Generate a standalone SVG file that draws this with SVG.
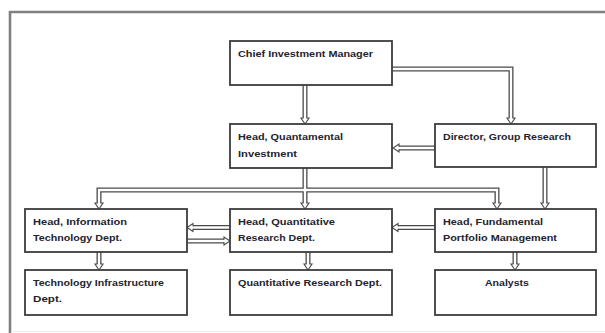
<svg xmlns="http://www.w3.org/2000/svg" width="605" height="333" viewBox="0 0 605 333">
<defs>
<style>
.box{fill:#fff;stroke:#3c3c3c;stroke-width:1.8}
.t{font-family:"Liberation Sans",Arial,sans-serif;font-weight:bold;font-size:9.5px;fill:#23232e}
.case{fill:none;stroke:#4a4a4a;stroke-width:5;stroke-linejoin:miter}
.core{fill:none;stroke:#fff;stroke-width:2.4;stroke-linejoin:miter}
</style>
<marker id="ah" markerUnits="userSpaceOnUse" viewBox="-1 -5 8 10" markerWidth="8" markerHeight="10" refX="0" refY="0" orient="auto" overflow="visible">
<path d="M0,-1.3 L0,-4 L6,0 L0,4 L0,1.3" fill="#fff" stroke="#4a4a4a" stroke-width="1.1"/>
</marker>
</defs>
<rect width="605" height="333" fill="#fff"/>
<g id="frame">
<path d="M10,333 V12 H605" fill="none" stroke="#808080" stroke-width="2.6"/>
<path d="M11,331.5 H605" fill="none" stroke="#ececec" stroke-width="1"/>
</g>
<g id="connectors">
<g class="case">
<path d="M305,85 V118"/>
<path d="M392,69 H511 V118"/>
<path d="M435,148 H399"/>
<path d="M305,168 V203"/>
<path d="M305,190 H99 V203"/>
<path d="M305,190 H497 V203"/>
<path d="M545,167 V203"/>
<path d="M230,227.5 H193"/>
<path d="M187,241 H224"/>
<path d="M435,227.5 H398"/>
<path d="M99,252 V264"/>
<path d="M308,252 V264"/>
<path d="M515,252 V264"/>
</g>
<g class="core" marker-end="url(#ah)">
<path d="M305,85 V118"/>
<path d="M392,69 H511 V118"/>
<path d="M435,148 H399"/>
<path d="M305,168 V203"/>
<path d="M305,190 H99 V203"/>
<path d="M305,190 H497 V203"/>
<path d="M545,167 V203"/>
<path d="M230,227.5 H193"/>
<path d="M187,241 H224"/>
<path d="M435,227.5 H398"/>
<path d="M99,252 V264"/>
<path d="M308,252 V264"/>
<path d="M515,252 V264"/>
</g>
</g>
<g id="chief">
<rect class="box" x="230" y="41" width="162" height="44"/>
<text class="t" x="238" y="56.5" textLength="135" lengthAdjust="spacingAndGlyphs">Chief Investment Manager</text>
</g>
<g id="quantamental">
<rect class="box" x="230" y="124" width="162" height="44"/>
<text class="t" x="238" y="140" textLength="105" lengthAdjust="spacingAndGlyphs">Head, Quantamental</text>
<text class="t" x="238" y="156.5" textLength="59" lengthAdjust="spacingAndGlyphs">Investment</text>
</g>
<g id="director">
<rect class="box" x="435" y="124" width="161" height="43"/>
<text class="t" x="443" y="139.5" textLength="128" lengthAdjust="spacingAndGlyphs">Director, Group Research</text>
</g>
<g id="headit">
<rect class="box" x="25" y="209" width="162" height="43"/>
<text class="t" x="33" y="225" textLength="94" lengthAdjust="spacingAndGlyphs">Head, Information</text>
<text class="t" x="33" y="241" textLength="89" lengthAdjust="spacingAndGlyphs">Technology Dept.</text>
</g>
<g id="headquant">
<rect class="box" x="230" y="209" width="162" height="43"/>
<text class="t" x="238" y="225" textLength="97" lengthAdjust="spacingAndGlyphs">Head, Quantitative</text>
<text class="t" x="238" y="241" textLength="77" lengthAdjust="spacingAndGlyphs">Research Dept.</text>
</g>
<g id="headfund">
<rect class="box" x="435" y="209" width="161" height="43"/>
<text class="t" x="443" y="225" textLength="100" lengthAdjust="spacingAndGlyphs">Head, Fundamental</text>
<text class="t" x="443" y="241" textLength="114" lengthAdjust="spacingAndGlyphs">Portfolio Management</text>
</g>
<g id="techinfra">
<rect class="box" x="25" y="270" width="162" height="45"/>
<text class="t" x="33" y="286" textLength="131" lengthAdjust="spacingAndGlyphs">Technology Infrastructure</text>
<text class="t" x="33" y="302" textLength="29" lengthAdjust="spacingAndGlyphs">Dept.</text>
</g>
<g id="quantdept">
<rect class="box" x="230" y="270" width="162" height="45"/>
<text class="t" x="238" y="286" textLength="144" lengthAdjust="spacingAndGlyphs">Quantitative Research Dept.</text>
</g>
<g id="analysts">
<rect class="box" x="435" y="270" width="161" height="45"/>
<text class="t" x="485" y="286" textLength="44" lengthAdjust="spacingAndGlyphs">Analysts</text>
</g>
</svg>
